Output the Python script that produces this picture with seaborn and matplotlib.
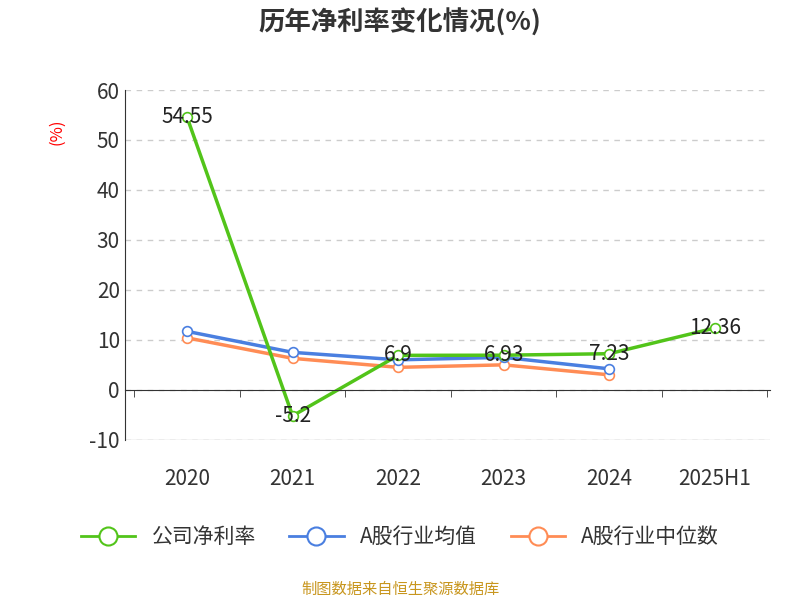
import matplotlib
matplotlib.use("Agg")
import matplotlib.pyplot as plt
from matplotlib import font_manager
import seaborn as sns
import pandas as pd
import numpy as np

categories = ["2020", "2021", "2022", "2023", "2024", "2025H1"]
company = [54.55, -5.2, 6.9, 6.93, 7.23, 12.36]
industry_mean = [11.7, 7.5, 6.0, 6.5, 4.2]
industry_median = [10.4, 6.3, 4.5, 5.0, 3.0]
company_labels = ["54.55", "-5.2", "6.9", "6.93", "7.23", "12.36"]

cjk = None
for name in ["Noto Sans CJK SC", "Noto Sans CJK JP", "Noto Sans CJK TC", "Noto Sans CJK KR"]:
    try:
        font_manager.findfont(name, fallback_to_default=False)
        cjk = name
        break
    except Exception:
        pass
if cjk is None:
    for f in font_manager.findSystemFonts():
        if "NotoSansCJK" in f.replace(" ", "") or "CJK" in f:
            font_manager.fontManager.addfont(f)
            cjk = font_manager.FontProperties(fname=f).get_name()
            break
plt.rcParams["font.family"] = "sans-serif"
plt.rcParams["font.sans-serif"] = [cjk or "DejaVu Sans", "DejaVu Sans"]
plt.rcParams["axes.unicode_minus"] = False

fig = plt.figure(figsize=(8, 6), dpi=100)
ax = fig.add_axes([0.156, 0.267, 0.806, 0.583])

x = np.arange(len(categories))
df = pd.DataFrame({
    "x": np.concatenate([x, x[:5], x[:5]]),
    "v": company + industry_mean + industry_median,
    "s": ["公司净利率"] * 6 + ["A股行业均值"] * 5 + ["A股行业中位数"] * 5,
})
palette = {"公司净利率": "#52c41a", "A股行业均值": "#4a7fe0", "A股行业中位数": "#ff8c55"}
for name in ["A股行业中位数", "A股行业均值", "公司净利率"]:
    sub = df[df.s == name]
    sns.lineplot(x=sub.x, y=sub.v, color=palette[name], linewidth=2.5, ax=ax, legend=False)
    ax.plot(sub.x, sub.v, linestyle="none", marker="o", markersize=7,
            markerfacecolor="white", markeredgecolor=palette[name], markeredgewidth=1.2)

for xi, v, t in zip(x, company, company_labels):
    ax.text(xi, v, t, ha="center", va="center", fontsize=15, color="#222222")

ax.set_xlim(-0.59, 5.52)
ax.set_ylim(-10, 60)
ax.set_yticks(range(-10, 61, 10))
ax.yaxis.grid(True, linestyle=(0, (4, 4)), color="#cccccc", linewidth=1)
ax.axhline(-10, color="#cccccc", linewidth=1, zorder=0)
ax.set_axisbelow(True)
for s in ["top", "right"]:
    ax.spines[s].set_visible(False)
ax.spines["left"].set_color("#333333")
ax.spines["bottom"].set_position(("data", 0))
ax.spines["bottom"].set_color("#333333")
ax.set_xticks(x)
ax.set_xticklabels(categories)
ax.set_xticks(np.arange(-0.5, 5.6, 1), minor=True)
ax.tick_params(axis="x", which="major", length=0, pad=56, labelsize=15, labelcolor="#333333")
ax.tick_params(axis="x", which="minor", length=5, color="#333333")
ax.tick_params(axis="y", length=0, labelsize=15, labelcolor="#333333")
ax.set_xlabel("")
ax.set_ylabel("")
ax.text(-0.105, 0.88, "(%)", transform=ax.transAxes, rotation=90, color="red",
        fontsize=12, ha="center", va="center")

fig.text(0.5, 0.962, "历年净利率变化情况(%)", ha="center", va="center",
         fontsize=19, fontweight="bold", color="#333333")

from matplotlib.lines import Line2D
handles = [Line2D([], [], color=palette[k], linewidth=2, marker="o", markersize=13,
                  markerfacecolor="white", markeredgewidth=1.5) for k in palette]
fig.legend(handles, list(palette.keys()), loc="center", bbox_to_anchor=(0.5, 0.105),
           ncol=3, frameon=False, fontsize=15, handlelength=2.6, columnspacing=1.6,
           labelcolor="#333333")
fig.text(0.5, 0.017, "制图数据来自恒生聚源数据库", ha="center", va="center",
         fontsize=11, color="#c8961e")
fig.savefig("out.png", dpi=100)
